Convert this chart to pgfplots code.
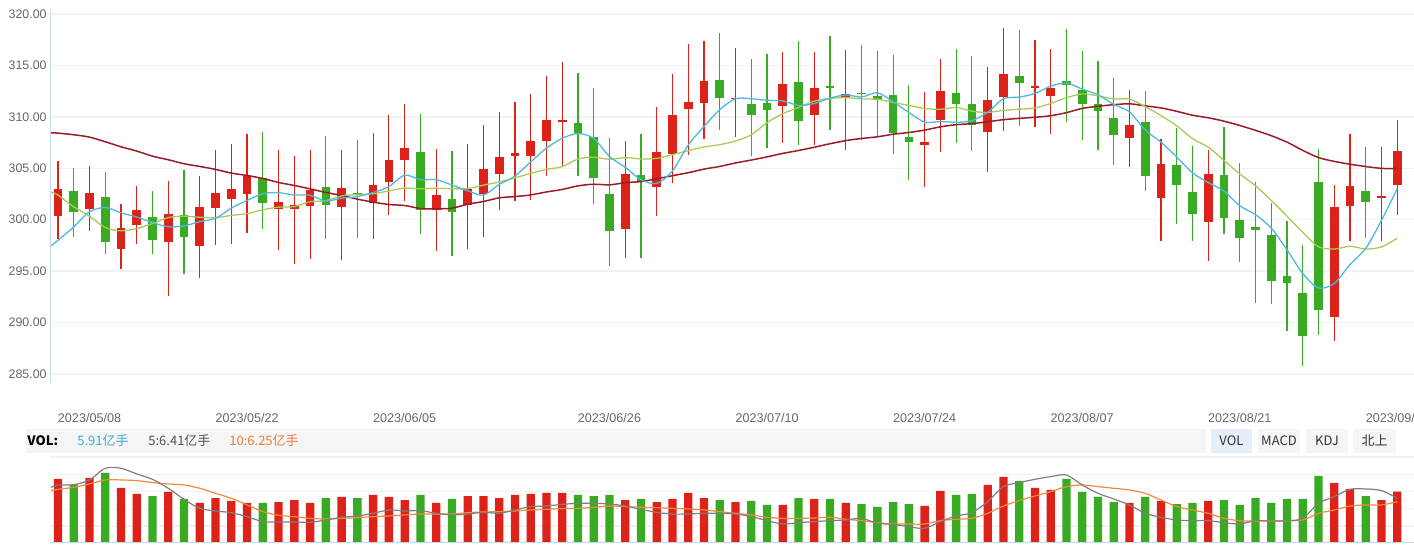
\documentclass[border=0pt]{standalone}
\usepackage{pgfplots}
\usepackage{pgfplotstable}
\pgfplotsset{compat=1.18}
\usepackage{fontspec}
\setmainfont{Liberation Sans}
\newfontfamily\cjk{Noto Sans CJK SC}

\definecolor{cRed}{HTML}{DD2219}
\definecolor{cGreen}{HTML}{38AB22}
\definecolor{ma5}{HTML}{4CB9DF}
\definecolor{ma10}{HTML}{A6CB56}
\definecolor{ma30}{HTML}{9B1B26}
\definecolor{vma5}{HTML}{7F7F7F}
\definecolor{vma10}{HTML}{F08A3E}
\definecolor{gridc}{HTML}{F1F2F5}
\definecolor{axisc}{HTML}{C9D7EC}
\definecolor{band}{HTML}{F5F5F5}
\definecolor{btnsel}{HTML}{E6EEF9}
\definecolor{tickc}{HTML}{666666}
\definecolor{volblue}{HTML}{3FA9DA}
\definecolor{volorange}{HTML}{EE7B3A}

% up days (red): index open high low close volume
\pgfplotstableread{
i O H L C V
0 300.38 305.70 298.11 302.97 7.37
2 301.03 305.21 298.92 302.58 7.49
4 297.17 301.51 295.22 299.18 6.34
5 299.50 303.26 297.65 300.93 5.65
7 297.85 303.75 292.59 300.54 5.88
9 297.46 304.24 294.34 301.22 4.61
10 301.15 306.77 297.55 302.58 5.18
11 302.03 307.35 297.65 302.97 4.84
12 302.52 308.32 298.72 304.27 4.61
14 301.03 306.77 297.07 301.71 4.72
15 301.03 306.18 295.71 301.41 4.95
16 301.35 306.77 296.19 302.87 4.61
18 301.25 306.77 296.09 303.07 5.30
20 301.64 308.42 298.14 303.36 5.53
21 303.65 310.17 300.47 305.79 5.30
22 305.79 311.24 301.80 306.96 4.95
24 300.96 306.86 296.97 302.39 4.61
26 301.45 307.35 297.17 302.97 5.41
27 302.52 309.20 298.33 304.92 5.41
28 304.46 310.46 300.96 306.08 5.18
29 306.21 311.44 301.84 306.47 5.53
30 306.21 312.22 301.93 307.64 5.65
31 307.67 313.97 304.27 309.69 5.76
32 309.52 315.33 305.24 309.69 5.76
36 299.11 307.64 296.29 304.43 4.95
38 303.20 310.95 300.38 306.57 4.72
39 306.41 314.16 303.59 310.17 5.07
40 310.79 317.08 306.31 311.44 5.76
41 311.37 317.37 307.87 313.48 5.18
43 311.70 316.69 308.06 311.83 4.72
46 311.08 316.30 307.48 313.19 4.38
48 310.20 316.30 307.29 312.80 5.07
50 311.96 316.50 306.80 312.22 4.61
55 307.29 312.41 303.20 307.54 4.26
56 309.72 315.62 306.60 312.51 5.99
59 308.55 314.84 304.66 311.63 6.68
60 311.96 318.64 308.65 314.16 7.60
62 312.80 317.47 309.04 312.99 6.34
63 312.05 316.59 308.36 312.80 6.11
68 307.97 312.60 305.14 309.20 4.61
70 302.13 307.84 297.94 305.40 4.84
73 299.79 306.77 296.00 304.43 4.84
81 290.55 303.36 288.21 301.22 6.91
82 301.35 308.32 297.94 303.26 6.22
84 302.13 307.06 297.94 302.29 4.95
85 303.39 309.69 300.47 306.67 5.91
}\redT

% down days (green)
\pgfplotstableread{
i O H L C V
1 302.78 305.01 298.30 300.77 6.72
3 302.19 304.63 296.68 297.85 8.06
6 300.25 302.78 296.68 298.04 5.41
8 300.44 304.82 294.73 298.33 5.07
13 304.04 308.52 299.11 301.64 4.61
17 303.17 308.13 298.14 301.45 5.18
19 302.58 307.74 298.24 302.45 5.18
23 306.57 310.27 298.62 300.96 5.53
25 302.00 306.67 296.48 300.77 5.07
33 309.39 314.26 304.27 308.39 5.53
34 308.03 312.80 301.54 304.07 5.41
35 302.48 307.93 295.51 298.92 5.53
37 304.33 308.32 296.29 303.68 5.07
42 313.58 318.15 308.75 311.86 4.95
44 311.24 315.62 306.18 310.20 4.84
45 311.34 316.11 306.99 310.69 4.38
47 313.38 317.37 307.29 309.62 5.18
49 312.96 317.86 308.75 312.80 5.07
51 312.31 316.98 307.78 312.20 4.49
52 312.02 316.40 308.06 311.66 4.15
53 312.12 316.01 306.41 308.45 4.72
54 308.03 313.09 303.88 307.58 4.49
57 312.31 316.59 307.48 311.27 5.53
58 311.24 315.91 306.70 309.23 5.65
61 313.97 318.44 309.13 313.32 7.14
64 313.48 318.54 309.52 313.12 7.37
65 312.60 316.40 307.78 311.27 5.88
66 311.24 315.43 306.80 310.59 5.30
67 309.88 313.77 305.34 308.26 4.72
69 309.49 312.51 302.81 304.27 5.30
71 305.31 308.91 299.60 303.39 4.49
72 302.68 307.16 297.94 300.57 4.61
74 304.33 309.00 298.62 300.18 4.95
75 299.95 305.50 295.90 298.24 4.38
76 299.27 303.62 291.91 299.01 5.18
77 298.50 301.61 291.81 294.05 4.61
78 294.50 299.86 289.19 293.86 5.07
79 292.85 297.52 285.78 288.70 5.07
80 303.65 306.86 288.80 291.23 7.72
83 302.78 307.06 298.24 301.74 5.41
}\greenT

% price moving averages
\pgfplotstableread{
i ma5 ma10 ma30
-0.45 297.46 302.70 308.45
0 298.00 302.39 308.42
1 299.30 301.25 308.26
2 300.77 300.34 308.03
3 301.19 299.24 307.58
4 300.67 298.92 307.09
5 300.26 299.14 306.67
6 299.72 299.63 306.18
7 299.31 300.21 305.83
8 299.40 300.34 305.44
9 299.81 300.24 305.18
10 300.14 300.20 304.89
11 301.13 300.42 304.53
12 301.87 300.59 304.30
13 302.54 300.97 304.01
14 302.63 301.22 303.62
15 302.40 301.27 303.33
16 302.38 301.75 303.00
17 301.82 301.85 302.65
18 302.10 302.32 302.36
19 302.25 302.44 302.00
20 302.64 302.52 301.71
21 303.22 302.80 301.48
22 304.33 303.07 301.38
23 303.90 303.00 301.09
24 303.89 303.07 301.06
25 303.37 303.01 301.12
26 302.81 303.02 301.51
27 302.40 303.36 301.77
28 303.43 303.67 302.13
29 304.24 304.07 302.25
30 305.62 304.50 302.41
31 306.96 304.89 302.70
32 307.91 305.16 302.94
33 308.38 305.90 303.29
34 307.90 306.07 303.45
35 306.15 305.88 303.39
36 305.10 306.03 303.60
37 303.90 305.91 303.71
38 303.53 305.96 303.98
39 304.75 306.33 304.28
40 307.26 306.71 304.57
41 309.07 307.08 304.92
42 310.70 307.30 305.18
43 311.76 307.65 305.52
44 311.76 308.26 305.80
45 311.61 309.44 306.11
46 311.55 310.31 306.45
47 311.11 310.91 306.73
48 311.30 311.53 307.05
49 311.82 311.79 307.39
50 312.13 311.87 307.69
51 311.93 311.74 307.90
52 312.34 311.72 308.06
53 311.47 311.39 308.31
54 310.43 311.12 308.48
55 309.49 310.81 308.71
56 309.55 310.74 309.03
57 309.47 310.91 309.24
58 309.63 310.55 309.34
59 310.44 310.43 309.52
60 311.76 310.63 309.73
61 311.92 310.74 309.85
62 312.27 310.87 309.96
63 312.98 311.30 310.11
64 313.28 311.86 310.41
65 312.70 312.23 310.82
66 312.15 312.04 311.03
67 311.21 311.74 311.18
68 310.49 311.73 311.27
69 308.72 311.00 311.07
70 307.54 310.12 310.87
71 306.10 309.13 310.54
72 304.57 307.89 310.16
73 303.61 307.05 309.91
74 302.79 305.76 309.58
75 301.36 304.45 309.16
76 300.49 303.30 308.69
77 299.18 301.87 308.17
78 297.07 300.34 307.54
79 294.77 298.78 306.74
80 293.37 297.37 306.04
81 293.81 297.15 305.67
82 295.65 297.42 305.39
83 297.23 297.15 305.17
84 299.95 297.36 304.99
85 303.04 298.20 304.96
}\maT

% volume moving averages
\pgfplotstableread{
i v5 v10
-0.45 6.41 6.03
0 6.68 6.18
1 6.72 6.41
2 7.26 6.80
3 8.60 7.26
4 8.60 7.26
5 7.95 7.18
6 7.33 6.95
7 6.30 6.80
8 5.03 6.68
9 3.99 6.30
10 3.69 5.72
11 3.49 5.15
12 3.03 4.38
13 2.46 3.61
14 2.42 3.19
15 2.42 3.03
16 2.38 2.84
17 2.65 2.76
18 2.96 2.84
19 3.11 2.92
20 3.42 3.03
21 3.80 3.11
22 3.69 3.23
23 3.73 3.34
24 3.42 3.34
25 3.23 3.34
26 3.34 3.49
27 3.53 3.57
28 3.42 3.61
29 3.80 3.69
30 4.19 3.80
31 4.26 3.88
32 4.45 3.96
33 4.57 3.99
34 4.57 4.11
35 4.49 4.26
36 4.26 4.19
37 3.88 4.11
38 3.53 4.07
39 3.34 3.99
40 3.34 3.92
41 3.42 3.80
42 3.42 3.61
43 3.34 3.42
44 3.03 3.23
45 2.57 2.96
46 2.19 2.84
47 2.34 2.84
48 2.46 2.88
49 2.57 2.96
50 2.65 2.73
51 2.84 2.57
52 2.27 2.34
53 2.15 2.19
54 1.88 2.19
55 1.69 2.19
56 2.46 2.57
57 3.11 2.73
58 3.49 2.84
59 4.76 3.42
60 6.49 4.26
61 6.95 4.88
62 7.33 5.41
63 7.64 5.91
64 7.83 6.49
65 6.68 6.68
66 5.72 6.49
67 5.07 6.30
68 4.38 6.11
69 3.42 5.72
70 2.96 4.95
71 2.65 4.19
72 2.57 3.80
73 2.57 3.42
74 2.34 2.84
75 2.19 2.57
76 2.57 2.53
77 2.53 2.53
78 2.57 2.57
79 2.84 2.65
80 4.57 3.42
81 5.34 3.80
82 6.18 4.26
83 6.22 4.38
84 6.03 4.38
85 5.15 4.76
}\vmaT

% candle pieces are drawn as explicit error bars (wick: low->high, body: open<->close)
\pgfplotsset{
  candle/.style={draw=none, mark=none, forget plot,
    error bars/.cd, y dir=plus, y explicit, error mark=none,
    error bar style={#1}},
}

\begin{document}
\begin{tikzpicture}

% price panel
\begin{axis}[
    at={(25pt,81.5pt)}, anchor=south west,
    width=682pt, height=186.5pt, scale only axis,
    xmin=-0.508, xmax=86.06, ymin=284.126, ymax=320.389,
    axis line style={draw=none},
    major tick length=0pt,
    ytick={285,290,...,320},
    ymajorgrids, grid style={gridc, line width=0.7pt},
    yticklabel style={anchor=east, inner sep=0pt, xshift=-1.5pt,
        font=\fontsize{6.2pt}{7pt}\selectfont, text=tickc,
        /pgf/number format/fixed, /pgf/number format/fixed zerofill,
        /pgf/number format/precision=2,
        /pgf/number format/assume math mode=true},
    xtick={2,12,22,35,45,55,65,75,85},
    xticklabels={2023/05/08,2023/05/22,2023/06/05,2023/06/26,2023/07/10,2023/07/24,2023/08/07,2023/08/21,2023/09/04},
    xticklabel style={anchor=center, inner sep=0pt, yshift=-17.5pt,
        font=\fontsize{6.3pt}{7pt}\selectfont, text=tickc},
]
\addplot[candle={draw=cRed, line width=0.6pt}]
  table[x=i, y=L, y error plus expr=\thisrow{H}-\thisrow{L}] {\redT};
\addplot[candle={draw=cRed, line width=4.35pt}]
  table[x=i, y=O, y error plus expr=\thisrow{C}-\thisrow{O}] {\redT};
\addplot[candle={draw=cGreen, line width=0.6pt}]
  table[x=i, y=L, y error plus expr=\thisrow{H}-\thisrow{L}] {\greenT};
\addplot[candle={draw=cGreen, line width=4.35pt}]
  table[x=i, y=C, y error plus expr=\thisrow{O}-\thisrow{C}] {\greenT};

\addplot[ma30, line width=0.75pt, smooth, mark=none] table[x=i, y=ma30] {\maT};
\addplot[ma10, line width=0.65pt, smooth, mark=none] table[x=i, y=ma10] {\maT};
\addplot[ma5, line width=0.65pt, smooth, mark=none] table[x=i, y=ma5] {\maT};

\draw[axisc, line width=0.6pt] (rel axis cs:0,0) -- (rel axis cs:0,1);
\end{axis}

% volume panel
\begin{axis}[
    at={(25pt,1.5pt)}, anchor=south west,
    width=682pt, height=43pt, scale only axis,
    xmin=-0.508, xmax=86.06, ymin=0, ymax=9.9,
    axis line style={draw=none},
    major tick length=0pt,
    xtick=\empty,
    ytick={1.98,3.96,5.94,7.92,9.9}, yticklabels={},
    ymajorgrids, grid style={gridc, line width=0.7pt},
]
\addplot[ybar, bar width=4.15pt, bar shift=0pt, fill=cRed, draw=none]
  table[x=i, y=V] {\redT};
\addplot[ybar, bar width=4.15pt, bar shift=0pt, fill=cGreen, draw=none]
  table[x=i, y=V] {\greenT};
\addplot[vma10, line width=0.6pt, smooth, mark=none] table[x=i, y=v10] {\vmaT};
\addplot[vma5, line width=0.6pt, smooth, mark=none] table[x=i, y=v5] {\vmaT};
\draw[axisc, line width=0.7pt] (rel axis cs:0,0) -- (rel axis cs:1,0);
\end{axis}

% VOL header row
\fill[band] (13pt,46.5pt) rectangle (603pt,58.5pt);
\begin{scope}[every node/.style={inner sep=0pt, font=\cjk\fontsize{6.5pt}{7pt}\selectfont}]
\node[anchor=west] at (13.5pt,52.5pt) {\bfseries VOL:};
\node[anchor=west, text=volblue] at (38.5pt,52.5pt) {5.91亿手};
\node[anchor=west, text=black!68] at (74pt,52.5pt) {5:6.41亿手};
\node[anchor=west, text=volorange] at (114.5pt,52.5pt) {10:6.25亿手};
\fill[btnsel] (605.5pt,46.5pt) rectangle (626pt,58.5pt);
\fill[band] (629pt,46.5pt) rectangle (650pt,58.5pt);
\fill[band] (653pt,46.5pt) rectangle (674pt,58.5pt);
\fill[band] (676.5pt,46.5pt) rectangle (698pt,58.5pt);
\node[text=black!80] at (615.75pt,52.5pt) {VOL};
\node[text=black!80] at (639.5pt,52.5pt) {MACD};
\node[text=black!80] at (663.5pt,52.5pt) {KDJ};
\node[text=black!80] at (687.25pt,52.5pt) {北上};
\end{scope}

\pgfresetboundingbox
\path[use as bounding box] (0pt,0pt) rectangle (707pt,273pt);
\end{tikzpicture}
\end{document}
